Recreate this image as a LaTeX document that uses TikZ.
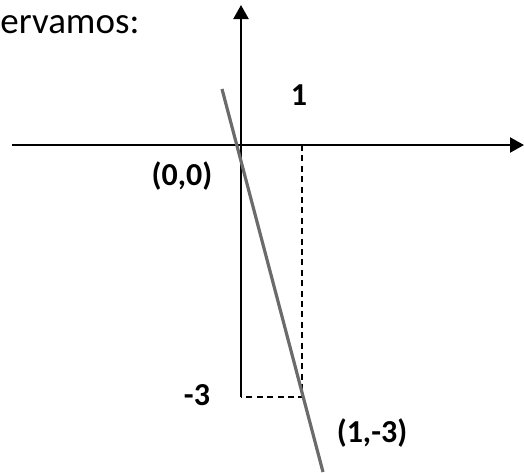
\documentclass[tikz,border=0pt]{standalone}
\usepackage{fontspec}
\setmainfont{Carlito}
\usetikzlibrary{arrows.meta}

\begin{document}
\begin{tikzpicture}[x=0.5pt,y=0.5pt,
    axis/.style={line width=1.1pt,-{Triangle[length=7pt,width=7.5pt]}},
    guide/.style={line width=0.9pt,dash pattern=on 3pt off 2.2pt},
    recta/.style={black!58,line width=1.6pt},
    lbl/.style={font=\fontsize{16}{19}\selectfont\bfseries,inner sep=0pt,anchor=base}]
    \useasboundingbox (-241,-327) rectangle (283,145);
    % ejes
    \coordinate (O) at (0,0);
    \coordinate (xl) at (-229,0);
    \coordinate (xr) at (283,0);
    \coordinate (yb) at (0,-252);
    \coordinate (yt) at (0,140);
    \coordinate (B) at (61,0);
    \coordinate (P) at (61,-252);
    \draw[axis] (xl) -- (xr);
    \draw[axis] (yb) -- (yt);
    \draw[guide] (B) -- (P) -- (yb);
    % recta
    \coordinate (s) at (-19,56);
    \coordinate (e) at (82,-327);
    \draw[recta] (s) -- (e);
    % textos
    \node[font=\fontsize{18.5}{22}\selectfont,inner sep=0pt,anchor=base west] (obs) at (-241,112) {ervamos:};
    \node[lbl] (uno) at (58,40) {1};
    \node[lbl] (orig) at (-59,-40) {(0,0)};
    \node[lbl] (mtres) at (-44,-260) {-3};
    \node[lbl] (punto) at (131,-297) {(1,-3)};
\end{tikzpicture}
\end{document}
